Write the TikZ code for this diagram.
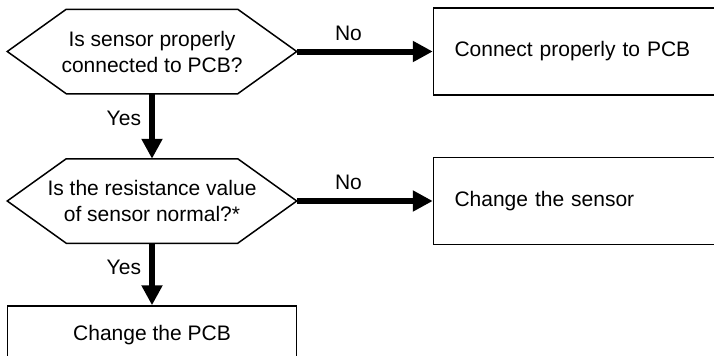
\documentclass[tikz,border=0pt]{standalone}
\usepackage{fontspec}
\setmainfont{Liberation Sans}
\usetikzlibrary{arrows.meta, positioning}

\begin{document}
\begin{tikzpicture}[
  x=0.5pt, y=-0.5pt,
  node distance=32.5pt and 68pt,
  base/.style={line width=0.75pt, font=\fontsize{10.5}{13}\selectfont,
               inner sep=0pt},
  query/.style={base, rectangle, minimum width=144pt, minimum height=41.5pt,
                align=center},
  action/.style={base, draw, rectangle, minimum height=43.5pt, text width=129pt,
                 inner xsep=10.5pt, align=left},
  flow/.style={line width=3pt, -{Triangle[length=10pt, width=10pt]}},
  tag/.style={font=\fontsize{10.5}{12}\selectfont, inner sep=0pt}]
\useasboundingbox (0,0) rectangle (714,355);
\clip (0,0) rectangle (714,355);
\node[query] (q1) at (152,51.5) {Is sensor properly\\ connected to PCB?};
\node[query, below=of q1] (q2) {Is the resistance value\\ of sensor normal?*};
\node[action, right=of q1] (b1) {Connect properly to PCB};
\node[action, right=of q2] (b2) {Change the sensor};
\node[base, draw, rectangle, below=31pt of q2, minimum width=144.5pt,
      minimum height=29pt] (b3) {Change the PCB};
% hexagon outlines for the two questions
\foreach \q in {q1, q2}
  \draw[line width=0.75pt, line join=miter] (\q.west)
    -- ([xshift=29.5pt]\q.north west) -- ([xshift=-29.5pt]\q.north east)
    -- (\q.east)
    -- ([xshift=-29.5pt]\q.south east) -- ([xshift=29.5pt]\q.south west)
    -- cycle;
\draw[flow] (q1) -- node[tag, pos=0.38, above=4pt] (no1) {No} (b1);
\draw[flow] (q1) -- node[tag, pos=0.385, left=4pt] (yes1) {Yes} (q2);
\draw[flow] (q2) -- node[tag, pos=0.38, above=4pt] (no2) {No} (b2);
\draw[flow] (q2) -- node[tag, pos=0.385, left=4pt] (yes2) {Yes} (b3);
\end{tikzpicture}
\end{document}
